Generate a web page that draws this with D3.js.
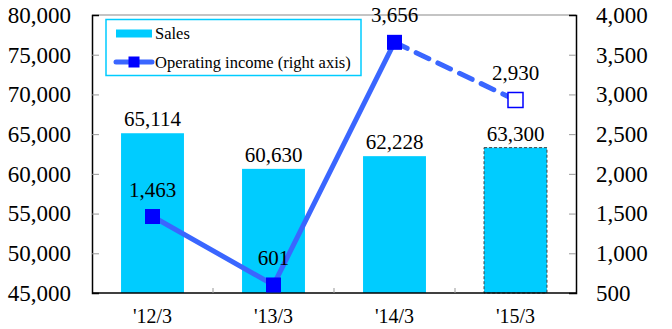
<!DOCTYPE html>
<html>
<head>
<meta charset="utf-8">
<script src="https://cdn.jsdelivr.net/npm/d3@7"></script>
<style>
  body { margin: 0; background: #fff; }
  text { font-family: "Liberation Serif", "Times New Roman", serif; fill: #000; }
</style>
</head>
<body>
<svg id="chart" width="672" height="329"></svg>
<script>
// data
var categories = ["'12/3", "'13/3", "'14/3", "'15/3"]
var sales = [65114, 60630, 62228, 63300]
var income = [1463, 601, 3656, 2930]
var forecast = [false, false, false, true]   // last year is a plan
var leftTicks = [45000, 50000, 55000, 60000, 65000, 70000, 75000, 80000]
var rightTicks = [500, 1000, 1500, 2000, 2500, 3000, 3500, 4000]

var barColor = '#00ccff'
var lineColor = '#3a66ff'
var markColor = '#0000ff'

var svg = d3.select('#chart')
// note: "top" is taken by window.top, so plot edges get their own names
var plotL = 92, plotR = 576, plotT = 15, plotB = 293

var x = d3.scaleBand().domain(categories).range([plotL, plotR]).padding(0)
var yL = d3.scaleLinear().domain([45000, 80000]).range([plotB, plotT])
var yR = d3.scaleLinear().domain([500, 4000]).range([plotB, plotT])
var fmt = d3.format(',')
var cx = d => x(d) + x.bandwidth() / 2
var barW = x.bandwidth() * 0.52

// bars
svg.append('g').selectAll('rect')
  .data(categories)
  .enter().append('rect')
  .attr('x', d => cx(d) - barW / 2)
  .attr('width', barW)
  .attr('y', (d, i) => yL(sales[i]))
  .attr('height', (d, i) => plotB - yL(sales[i]))
  .attr('fill', barColor)
  .attr('stroke', (d, i) => forecast[i] ? '#404040' : 'none')
  .attr('stroke-width', 1)
  .attr('stroke-dasharray', '3,2')

// frame top
svg.append('line').attr('x1', plotL).attr('x2', plotR).attr('y1', plotT).attr('y2', plotT)
  .attr('stroke', '#b0b0b0').attr('stroke-width', 1.5)

// left axis
var axL = svg.append('g').attr('transform', 'translate(' + plotL + ',0)')
  .call(d3.axisLeft(yL).tickValues(leftTicks).tickSize(-7).tickPadding(21).tickFormat(fmt))
axL.select('.domain').attr('stroke', '#000').attr('stroke-width', 1.5)
axL.selectAll('.tick line').attr('stroke', '#999')
axL.selectAll('.tick text').style('font-size', '23px').attr('font-family', null)

// right axis
var axR = svg.append('g').attr('transform', 'translate(' + plotR + ',0)')
  .call(d3.axisRight(yR).tickValues(rightTicks).tickSize(-7).tickPadding(20).tickFormat(fmt))
axR.select('.domain').attr('stroke', '#000').attr('stroke-width', 1.5)
axR.selectAll('.tick line').attr('stroke', '#999')
axR.selectAll('.tick text').style('font-size', '23px').attr('font-family', null)
// hide the end ticks that sit on the frame
axL.selectAll('.tick line').filter(d => d == 45000 || d == 80000).remove()
axR.selectAll('.tick line').filter(d => d == 500 || d == 4000).remove()

// bottom axis
svg.append('line').attr('x1', plotL).attr('x2', plotR).attr('y1', plotB).attr('y2', plotB)
  .attr('stroke', '#000').attr('stroke-width', 1.5)
svg.append('g').selectAll('line')
  .data(categories.slice(1))
  .enter().append('line')
  .attr('x1', d => x(d)).attr('x2', d => x(d))
  .attr('y1', plotB).attr('y2', plotB - 5)
  .attr('stroke', '#999')
svg.append('g').selectAll('text')
  .data(categories)
  .enter().append('text')
  .attr('x', cx)
  .attr('y', 323)
  .attr('text-anchor', 'middle')
  .style('font-size', '20px')
  .text(d => d)

// sales labels
svg.append('g').selectAll('text')
  .data(categories)
  .enter().append('text')
  .attr('x', cx)
  .attr('y', (d, i) => yL(sales[i]) - 7)
  .attr('text-anchor', 'middle')
  .style('font-size', '21px')
  .text((d, i) => fmt(sales[i]))

// operating income line
var pts = categories.map((d, i) => [cx(d), yR(income[i]), forecast[i]])
var line = d3.line().x(d => d[0]).y(d => d[1])
var lastActual = forecast.indexOf(true) - 1
svg.append('path').datum(pts.slice(0, lastActual + 1))
  .attr('d', line).attr('fill', 'none')
  .attr('stroke', lineColor).attr('stroke-width', 5)
svg.append('path').datum(pts.slice(lastActual))
  .attr('d', line).attr('fill', 'none')
  .attr('stroke', lineColor).attr('stroke-width', 5)
  .attr('stroke-dasharray', '14,10').attr('stroke-linecap', 'round')

var m = 15
svg.append('g').selectAll('rect')
  .data(pts)
  .enter().append('rect')
  .attr('x', d => d[0] - m / 2).attr('y', d => d[1] - m / 2)
  .attr('width', m).attr('height', m)
  .attr('fill', d => d[2] ? '#fff' : markColor)
  .attr('stroke', markColor).attr('stroke-width', d => d[2] ? 1.5 : 0)

svg.append('g').selectAll('text')
  .data(pts)
  .enter().append('text')
  .attr('x', d => d[0])
  .attr('y', d => d[1] - 20)
  .attr('text-anchor', 'middle')
  .style('font-size', '21px')
  .text((d, i) => fmt(income[i]))

// legend
var lg = svg.append('g')
lg.append('rect').attr('x', 106).attr('y', 19.5).attr('width', 255).attr('height', 56)
  .attr('fill', '#fff').attr('stroke', barColor).attr('stroke-width', 1.5)
lg.append('rect').attr('x', 116).attr('y', 29.5).attr('width', 36).attr('height', 8)
  .attr('fill', barColor)
lg.append('text').attr('x', 155).attr('y', 39).style('font-size', '16.5px').text('Sales')
lg.append('line').attr('x1', 116).attr('x2', 152).attr('y1', 62).attr('y2', 62)
  .attr('stroke', lineColor).attr('stroke-width', 5).attr('stroke-linecap', 'round')
lg.append('rect').attr('x', 128.5).attr('y', 56.5).attr('width', 11).attr('height', 11)
  .attr('fill', markColor)
lg.append('text').attr('x', 155).attr('y', 67.5).style('font-size', '16.5px')
  .text('Operating income (right axis)')
</script>
</body>
</html>
